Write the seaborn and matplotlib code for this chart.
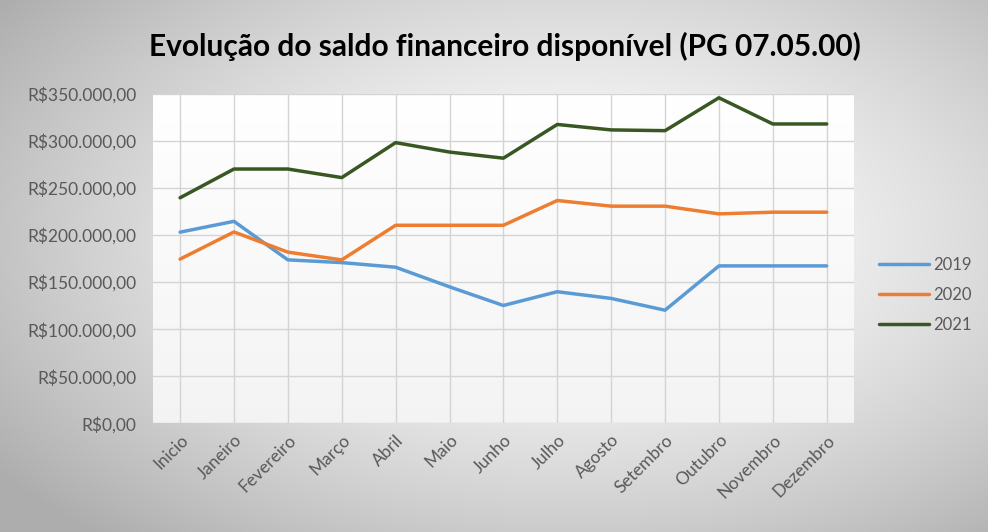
import numpy as np
import pandas as pd
import matplotlib
matplotlib.use("Agg")
import matplotlib.pyplot as plt
from matplotlib.ticker import FuncFormatter
import seaborn as sns

meses = ["Inicio", "Janeiro", "Fevereiro", "Março", "Abril", "Maio", "Junho",
         "Julho", "Agosto", "Setembro", "Outubro", "Novembro", "Dezembro"]
v2019 = [203000, 214500, 173600, 170700, 165800, 145000, 125200,
         139800, 132700, 120200, 167200, 167200, 167200]
v2020 = [174400, 203200, 181800, 173600, 210300, 210300, 210300,
         236600, 230600, 230600, 222400, 224200, 224200]
v2021 = [239500, 270000, 270000, 260900, 298000, 288000, 281500,
         317300, 311500, 310700, 345600, 317800, 317800]
anos = ["2019", "2020", "2021"]
cores = ["#5B9BD5", "#ED7D31", "#385723"]

df = pd.DataFrame({
    "mes": meses * 3,
    "idx": list(range(len(meses))) * 3,
    "valor": v2019 + v2020 + v2021,
    "ano": [a for a in anos for _ in meses],
})

sns.set_theme(style="white")
plt.rcParams["font.family"] = ["Lato", "DejaVu Sans"]

fig = plt.figure(figsize=(9.88, 5.32), dpi=100)

# background radial gradient
bg = fig.add_axes([0, 0, 1, 1], zorder=-10)
yy, xx = np.mgrid[0:1:300j, 0:1:560j]
r = np.sqrt(((xx - 0.58) / 0.72) ** 2 + ((yy - 0.55) / 0.75) ** 2)
val = 1.0 - 0.32 * np.clip(r, 0, 1) ** 1.5
img = np.dstack([val, val, val])
bg.imshow(img, aspect="auto", extent=[0, 1, 0, 1], origin="lower")
bg.set_axis_off()

ax = fig.add_axes([0.155, 0.204, 0.709, 0.62])
ax.set_facecolor("white")
ax.imshow(np.dstack([np.linspace(0.955, 1, 100)[:, None] * np.ones((100, 10))] * 3),
          aspect="auto", extent=[-0.5, 12.5, 0, 350000], origin="lower", zorder=0)

sns.lineplot(data=df, x="idx", y="valor", hue="ano", palette=cores,
             linewidth=2.5, ax=ax, sort=False, zorder=3)

ax.set_xlim(-0.5, 12.5)
ax.set_ylim(0, 350000)
ax.set_yticks(np.arange(0, 350001, 50000))
ax.yaxis.set_major_formatter(FuncFormatter(
    lambda v, p: r"R\$" + f"{int(v):,}".replace(",", ".") + ",00"))
ax.set_xticks(range(len(meses)))
ax.set_xticklabels(meses, rotation=45, ha="right", rotation_mode="anchor")
ax.tick_params(axis="both", colors="#595959", labelsize=12.5, length=0)
ax.tick_params(axis="x", pad=6)
ax.tick_params(axis="y", pad=12)
ax.grid(True, color="#d4d4d4", linewidth=1.0, zorder=1)
ax.set_axisbelow(True)
for s in ax.spines.values():
    s.set_visible(False)
ax.set_xlabel("")
ax.set_ylabel("")

leg = ax.legend(loc="center left", bbox_to_anchor=(1.015, 0.39), frameon=False,
                fontsize=12, handlelength=3.0, labelspacing=0.85, handletextpad=0.25)
for t in leg.get_texts():
    t.set_color("#595959")

fig.text(0.511, 0.912, "Evolução do saldo financeiro disponível (PG 07.05.00)",
         ha="center", va="center", fontsize=21.5, fontweight="bold", color="#000000")

fig.savefig("out.png", dpi=100)
